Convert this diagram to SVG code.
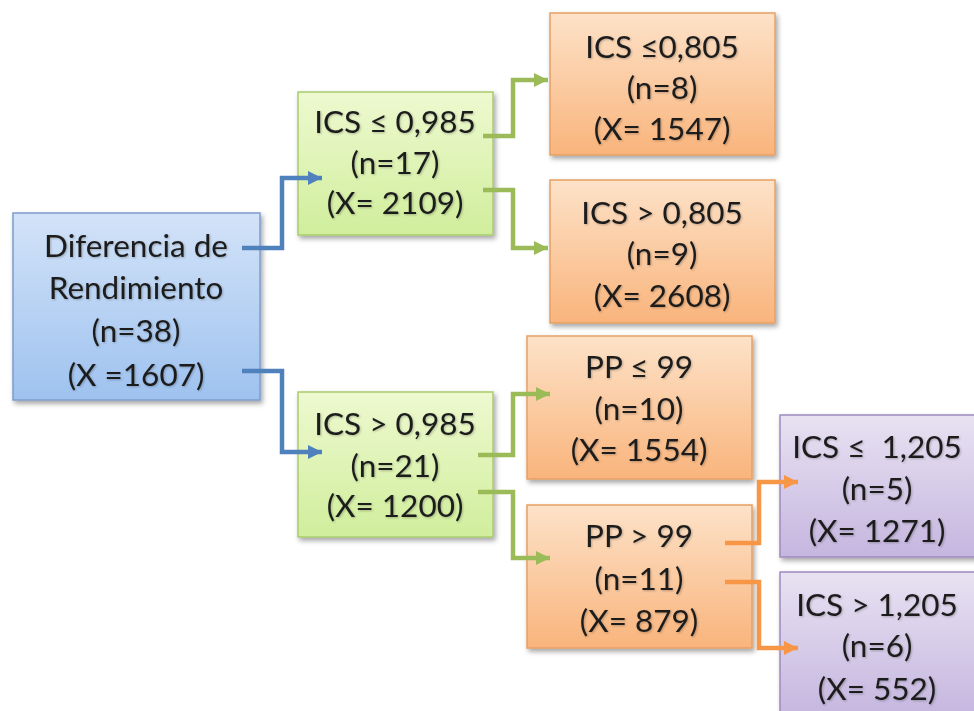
<svg xmlns="http://www.w3.org/2000/svg" width="974" height="711" viewBox="0 0 974 711">
<defs>
<linearGradient id="gBlue" x1="0" y1="0" x2="0" y2="1"><stop offset="0" stop-color="#d3e3f8"/><stop offset="1" stop-color="#9ec2ef"/></linearGradient>
<linearGradient id="gGreen" x1="0" y1="0" x2="0" y2="1"><stop offset="0" stop-color="#eef9d0"/><stop offset="1" stop-color="#d0ee9c"/></linearGradient>
<linearGradient id="gOrange" x1="0" y1="0" x2="0" y2="1"><stop offset="0" stop-color="#fde2c8"/><stop offset="1" stop-color="#f9b47c"/></linearGradient>
<linearGradient id="gPurple" x1="0" y1="0" x2="0" y2="1"><stop offset="0" stop-color="#e8e2f2"/><stop offset="1" stop-color="#c5b6df"/></linearGradient>
<filter id="sh" x="-10%" y="-10%" width="125%" height="125%"><feDropShadow dx="2" dy="3" stdDeviation="2.5" flood-color="#000" flood-opacity="0.35"/></filter>
<filter id="tsh" x="-5%" y="-20%" width="110%" height="140%"><feDropShadow dx="1" dy="1" stdDeviation="1" flood-color="#000" flood-opacity="0.25"/></filter>
<marker id="aBlue" markerUnits="userSpaceOnUse" markerWidth="16" markerHeight="16" refX="14" refY="8" orient="auto"><path d="M0,1 L14,8 L0,15 Z" fill="#4f81bd"/></marker>
<marker id="aGreen" markerUnits="userSpaceOnUse" markerWidth="16" markerHeight="16" refX="14" refY="8" orient="auto"><path d="M0,1 L14,8 L0,15 Z" fill="#9bbb59"/></marker>
<marker id="aOrange" markerUnits="userSpaceOnUse" markerWidth="16" markerHeight="16" refX="14" refY="8" orient="auto"><path d="M0,1 L14,8 L0,15 Z" fill="#f79646"/></marker>
</defs>
<style>
text{font-family:Lato,"Liberation Sans",sans-serif;font-size:31.5px;fill:#1c1c1c;text-anchor:middle;dominant-baseline:central;filter:url(#tsh)}
.box{filter:url(#sh);stroke-width:1.5}
.blue{fill:url(#gBlue);stroke:#7e9ccb}
.green{fill:url(#gGreen);stroke:#a9cc6e}
.orange{fill:url(#gOrange);stroke:#e6a064}
.purple{fill:url(#gPurple);stroke:#9d8ac0}
.c{fill:none;stroke-width:4.5;stroke-linejoin:miter}
.cb{stroke:#4f81bd;marker-end:url(#aBlue)}
.cg{stroke:#9bbb59;marker-end:url(#aGreen)}
.co{stroke:#f79646;marker-end:url(#aOrange)}
</style>
<rect width="974" height="711" fill="#fff"/>

<g id="root">
<rect class="box blue" x="13" y="213" width="247" height="187"/>
<text x="136" y="245">Diferencia de</text>
<text x="136" y="287">Rendimiento</text>
<text x="136" y="330">(n=38)</text>
<text x="136" y="374">(X =1607)</text>
</g>

<g id="g1">
<rect class="box green" x="298" y="92" width="195" height="143"/>
<text x="395" y="121">ICS ≤ 0,985</text>
<text x="395" y="162">(n=17)</text>
<text x="395" y="202">(X= 2109)</text>
</g>

<g id="g2">
<rect class="box green" x="298" y="392" width="195" height="145"/>
<text x="395" y="423">ICS &gt; 0,985</text>
<text x="395" y="465">(n=21)</text>
<text x="395" y="505">(X= 1200)</text>
</g>

<g id="o1">
<rect class="box orange" x="550" y="13" width="225" height="142"/>
<text x="662" y="46">ICS ≤0,805</text>
<text x="662" y="87">(n=8)</text>
<text x="662" y="128">(X= 1547)</text>
</g>

<g id="o2">
<rect class="box orange" x="550" y="180" width="225" height="143"/>
<text x="662" y="212">ICS &gt; 0,805</text>
<text x="662" y="253">(n=9)</text>
<text x="662" y="295">(X= 2608)</text>
</g>

<g id="o3">
<rect class="box orange" x="527" y="336" width="225" height="143"/>
<text x="639" y="366">PP ≤ 99</text>
<text x="639" y="408">(n=10)</text>
<text x="639" y="449">(X= 1554)</text>
</g>

<g id="o4">
<rect class="box orange" x="527" y="505" width="225" height="143"/>
<text x="639" y="535">PP &gt; 99</text>
<text x="639" y="578">(n=11)</text>
<text x="639" y="620">(X= 879)</text>
</g>

<g id="p1">
<rect class="box purple" x="780" y="415" width="200" height="142"/>
<text x="877" y="446">ICS ≤&#160; 1,205</text>
<text x="877" y="488">(n=5)</text>
<text x="877" y="530">(X= 1271)</text>
</g>

<g id="p2">
<rect class="box purple" x="780" y="572" width="200" height="145"/>
<text x="877" y="604">ICS &gt; 1,205</text>
<text x="877" y="645">(n=6)</text>
<text x="877" y="688">(X= 552)</text>
</g>

<g id="connectors">
<path class="c cb" d="M242,248 H282 V178 H322"/>
<path class="c cb" d="M242,371 H282 V452 H322"/>
<path class="c cg" d="M483,136 H513 V80 H548"/>
<path class="c cg" d="M483,190 H513 V248 H548"/>
<path class="c cg" d="M478,455 H513 V394 H550"/>
<path class="c cg" d="M478,492 H513 V558 H550"/>
<path class="c co" d="M725,543 H759 V482 H798"/>
<path class="c co" d="M725,582 H759 V648 H798"/>
</g>
</svg>
